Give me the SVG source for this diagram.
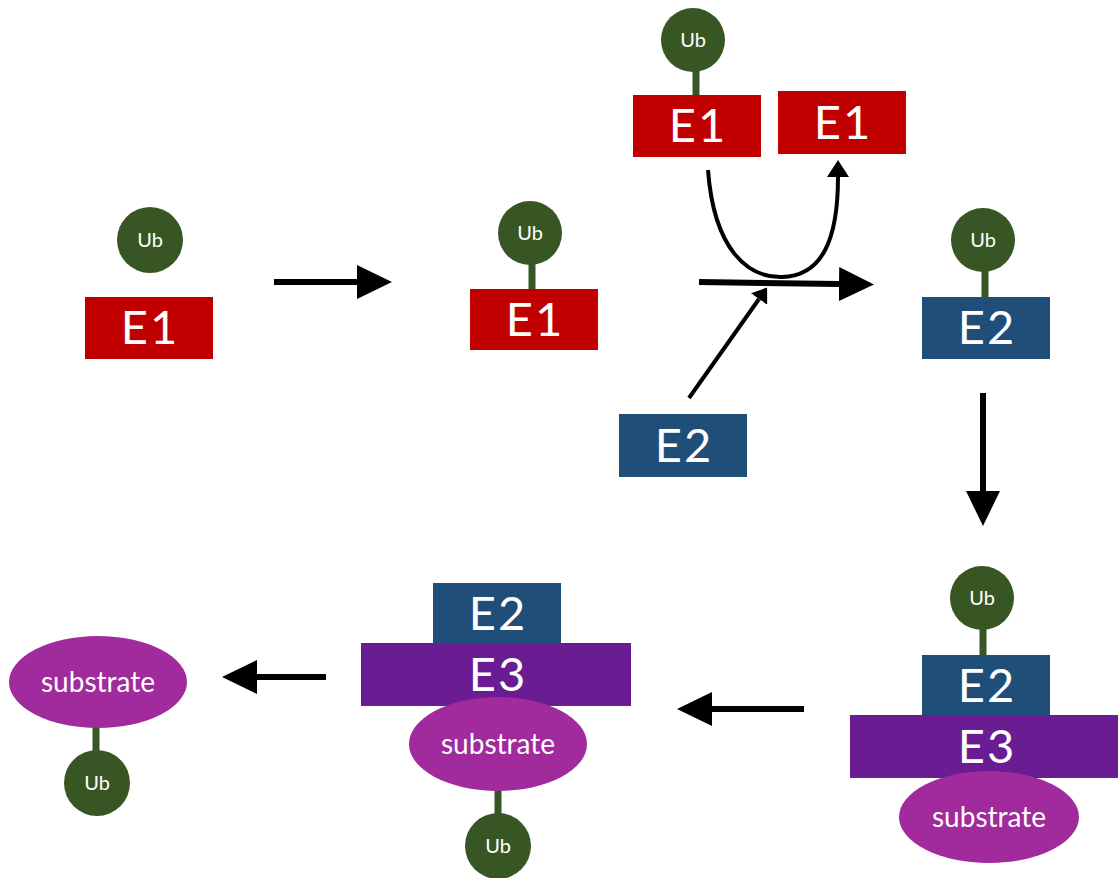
<svg xmlns="http://www.w3.org/2000/svg" width="1118" height="878" viewBox="0 0 1118 878">
<defs>
<style>
.e1{fill:#C00000}
.e2{fill:#1F4E79}
.e3{fill:#6A1D92}
.sub{fill:#A12A9D}
.ub{fill:#375623}
.stem{stroke:#375623;stroke-width:7}
.big{font-family:Lato,"Open Sans","Liberation Sans",sans-serif;font-size:47px;fill:#fff;text-anchor:middle;letter-spacing:2px}
.small{font-family:Lato,"Open Sans","Liberation Sans",sans-serif;font-size:20px;fill:#fff;text-anchor:middle}
.mid{font-family:Lato,"Open Sans","Liberation Sans",sans-serif;font-size:28px;fill:#fff;text-anchor:middle}
.thick{stroke:#000;stroke-width:6;fill:none}
.thin{stroke:#000;stroke-width:4;fill:none}
</style>
<marker id="headBig" viewBox="0 0 35 34" refX="0" refY="17" markerWidth="35" markerHeight="34" markerUnits="userSpaceOnUse" orient="auto"><path d="M0,0 L35,17 L0,34 Z" fill="#000"/></marker>
<marker id="headMid" viewBox="0 0 17 22" refX="0" refY="11" markerWidth="17" markerHeight="22" markerUnits="userSpaceOnUse" orient="auto"><path d="M0,0 L17,11 L0,22 Z" fill="#000"/></marker>
<marker id="headSmall" viewBox="0 0 14 20" refX="0" refY="10" markerWidth="14" markerHeight="20" markerUnits="userSpaceOnUse" orient="auto"><path d="M0,0 L14,10 L0,20 Z" fill="#000"/></marker>
</defs>
<rect width="1118" height="878" fill="#fff"/>

<g id="connectors">
<line class="thick" x1="274" y1="282" x2="357" y2="282" marker-end="url(#headBig)"/>
<line class="thick" x1="699" y1="282" x2="839" y2="284" marker-end="url(#headBig)"/>
<path class="thin" d="M708,170 C714,250 748,278 782,277 C822,276 838,240 838,177" marker-end="url(#headMid)"/>
<line class="thin" x1="689" y1="398" x2="759" y2="299" marker-end="url(#headSmall)"/>
<line class="thick" x1="983" y1="393" x2="983" y2="491" marker-end="url(#headBig)"/>
<line class="thick" x1="804" y1="709" x2="712" y2="709" marker-end="url(#headBig)"/>
<line class="thick" x1="326" y1="677" x2="257" y2="677" marker-end="url(#headBig)"/>
</g>

<g id="ub-free">
<circle class="ub" cx="150" cy="240" r="33"/>
<text class="small" x="150" y="247">Ub</text>
</g>
<g id="e1-free">
<rect class="e1" x="85" y="297" width="128" height="62"/>
<text class="big" x="150" y="344">E1</text>
</g>

<g id="e1-ub">
<line class="stem" x1="532" y1="262" x2="532" y2="291"/>
<circle class="ub" cx="530" cy="233" r="32"/>
<text class="small" x="530" y="240">Ub</text>
<rect class="e1" x="470" y="289" width="128" height="61"/>
<text class="big" x="535" y="336">E1</text>
</g>

<g id="e1-ub-top">
<line class="stem" x1="696" y1="68" x2="696" y2="99"/>
<circle class="ub" cx="693" cy="40" r="32"/>
<text class="small" x="693" y="47">Ub</text>
<rect class="e1" x="633" y="95" width="128" height="62"/>
<text class="big" x="698" y="142">E1</text>
</g>

<g id="e1-released">
<rect class="e1" x="778" y="91" width="128" height="63"/>
<text class="big" x="843" y="139">E1</text>
</g>

<g id="e2-free">
<rect class="e2" x="619" y="414" width="128" height="63"/>
<text class="big" x="684" y="462">E2</text>
</g>

<g id="e2-ub">
<line class="stem" x1="985" y1="268" x2="985" y2="299"/>
<circle class="ub" cx="983" cy="240" r="32"/>
<text class="small" x="983" y="247">Ub</text>
<rect class="e2" x="922" y="297" width="128" height="62"/>
<text class="big" x="987" y="344">E2</text>
</g>

<g id="e2-e3-substrate-ub">
<line class="stem" x1="983" y1="626" x2="983" y2="658"/>
<circle class="ub" cx="982" cy="598" r="32"/>
<text class="small" x="982" y="605">Ub</text>
<rect class="e2" x="922" y="655" width="128" height="62"/>
<text class="big" x="987" y="702">E2</text>
<rect class="e3" x="850" y="715" width="268" height="63"/>
<text class="big" x="987" y="763">E3</text>
<ellipse class="sub" cx="989" cy="817" rx="90" ry="46"/>
<text class="mid" x="989" y="827">substrate</text>
</g>

<g id="e2-e3-substrate-ubtransfer">
<rect class="e2" x="433" y="583" width="128" height="62"/>
<text class="big" x="498" y="630">E2</text>
<rect class="e3" x="361" y="643" width="270" height="63"/>
<text class="big" x="498" y="691">E3</text>
<line class="stem" x1="498" y1="786" x2="498" y2="816"/>
<ellipse class="sub" cx="498" cy="744" rx="89" ry="47"/>
<text class="mid" x="498" y="754">substrate</text>
<circle class="ub" cx="498" cy="846" r="33"/>
<text class="small" x="498" y="853">Ub</text>
</g>

<g id="substrate-ub">
<line class="stem" x1="96" y1="722" x2="96" y2="754"/>
<ellipse class="sub" cx="98" cy="682" rx="89" ry="46"/>
<text class="mid" x="98" y="692">substrate</text>
<circle class="ub" cx="97" cy="783" r="33"/>
<text class="small" x="97" y="790">Ub</text>
</g>
</svg>
